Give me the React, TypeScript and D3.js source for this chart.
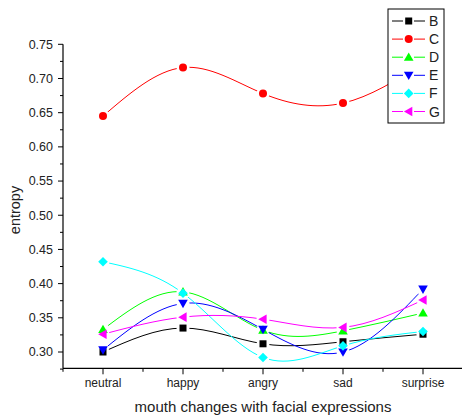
import React from "react";
import * as d3 from "d3";

const categories = ["neutral", "happy", "angry", "sad", "surprise"];
const seriesNames = ["B", "C", "D", "E", "F", "G"];
const valuesB = [0.300, 0.335, 0.312, 0.315, 0.326];
const valuesC = [0.645, 0.716, 0.678, 0.664, 0.722];
const valuesD = [0.333, 0.388, 0.332, 0.331, 0.357];
const valuesE = [0.303, 0.371, 0.333, 0.300, 0.392];
const valuesF = [0.432, 0.386, 0.292, 0.309, 0.330];
const valuesG = [0.326, 0.351, 0.348, 0.336, 0.376];
const yTicks = [0.30, 0.35, 0.40, 0.45, 0.50, 0.55, 0.60, 0.65, 0.70, 0.75];

const colors = ["#000000", "#ff0000", "#00ff00", "#0000ff", "#00ffff", "#ff00ff"];
const shapes = ["square", "circle", "triUp", "triDown", "diamond", "triLeft"];
const allValues = [valuesB, valuesC, valuesD, valuesE, valuesF, valuesG];

const W = 462, H = 416;
const left = 63, right = 463, top = 44.3, bottom = 368.3;

const x = d3.scaleLinear().domain([-0.5, 4.5]).range([left, right]);
const y = d3.scaleLinear().domain([0.30, 0.75]).range([352, 44.3]);

function Marker({ shape, cx, cy, color }: { shape: string; cx: number; cy: number; color: string }) {
  if (shape === "square") return <rect x={cx - 3.5} y={cy - 3.5} width={7} height={7} fill={color} />;
  if (shape === "circle") return <circle cx={cx} cy={cy} r={4} fill={color} />;
  const s = 4.8;
  let pts = "";
  if (shape === "triUp") pts = `${cx},${cy - s} ${cx + s},${cy + s * 0.75} ${cx - s},${cy + s * 0.75}`;
  if (shape === "triDown") pts = `${cx},${cy + s} ${cx + s},${cy - s * 0.75} ${cx - s},${cy - s * 0.75}`;
  if (shape === "triLeft") pts = `${cx - s},${cy} ${cx + s * 0.75},${cy - s} ${cx + s * 0.75},${cy + s}`;
  if (shape === "diamond") pts = `${cx},${cy - s} ${cx + s},${cy} ${cx},${cy + s} ${cx - s},${cy}`;
  return <polygon points={pts} fill={color} />;
}

export default function App() {
  const line = d3
    .line<number>()
    .x((_, i) => x(i))
    .y((d) => y(d))
    .curve(d3.curveNatural);

  const minorY = d3.range(0.275, 0.751, 0.025).filter((v) => Math.abs((v * 40) % 2) > 0.5);
  const xMinor = d3.range(-0.5, 4.6, 1);

  const legendX = 388, legendY = 9, legendW = 56, legendH = 114;

  return (
    <svg width={W} height={H} style={{ position: "absolute", left: 0, top: 0, background: "#fff" }}
      fontFamily="Liberation Sans, Arial, sans-serif">
      <defs>
        {allValues.map((vals, si) => (
          <mask id={`m${si}`} key={si} maskUnits="userSpaceOnUse" x={0} y={0} width={W} height={H}>
            <rect x={0} y={0} width={W} height={H} fill="#fff" />
            {vals.map((v, i) => (
              <circle key={i} cx={x(i)} cy={y(v)} r={6.5} fill="#000" />
            ))}
          </mask>
        ))}
      </defs>

      {/* axes */}
      <line x1={left} y1={top} x2={left} y2={bottom} stroke="#000" strokeWidth={1.2} />
      <line x1={left} y1={bottom} x2={right} y2={bottom} stroke="#000" strokeWidth={1.2} />
      {yTicks.map((t) => (
        <g key={t}>
          <line x1={left - 5} x2={left} y1={y(t)} y2={y(t)} stroke="#000" strokeWidth={1} />
          <text x={53} y={y(t)} dy="0.35em" textAnchor="end" fontSize={12.5} fill="#222">
            {t.toFixed(2)}
          </text>
        </g>
      ))}
      {minorY.map((t) => (
        <line key={t} x1={left - 3} x2={left} y1={y(t)} y2={y(t)} stroke="#000" strokeWidth={1} />
      ))}
      {categories.map((c, i) => (
        <g key={c}>
          <line x1={x(i)} x2={x(i)} y1={bottom} y2={bottom + 6} stroke="#000" strokeWidth={1} />
          <text x={x(i)} y={387} textAnchor="middle" fontSize={12} fill="#222">
            {c}
          </text>
        </g>
      ))}
      {xMinor.map((t) => (
        <line key={t} x1={x(t)} x2={x(t)} y1={bottom} y2={bottom + 3.5} stroke="#000" strokeWidth={1} />
      ))}
      <text x={263} y={412} textAnchor="middle" fontSize={15} fill="#222">
        mouth changes with facial expressions
      </text>
      <text transform="translate(19.5,210) rotate(-90)" textAnchor="middle" fontSize={14.5} fill="#222">
        entropy
      </text>

      {/* series */}
      {allValues.map((vals, si) => (
        <g key={si}>
          <path d={line(vals) || ""} fill="none" stroke={colors[si]} strokeWidth={1} mask={`url(#m${si})`} />
          {vals.map((v, i) => (
            <Marker key={i} shape={shapes[si]} cx={x(i)} cy={y(v)} color={colors[si]} />
          ))}
        </g>
      ))}

      {/* legend */}
      <rect x={legendX} y={legendY} width={legendW} height={legendH} fill="#fff" stroke="#000" strokeWidth={1} />
      {seriesNames.map((n, si) => {
        const ly = 21 + si * 18.1;
        return (
          <g key={n}>
            <line x1={392} x2={403} y1={ly} y2={ly} stroke={colors[si]} strokeWidth={1} />
            <line x1={414} x2={425} y1={ly} y2={ly} stroke={colors[si]} strokeWidth={1} />
            <Marker shape={shapes[si]} cx={408.7} cy={ly} color={colors[si]} />
            <text x={429} y={ly} dy="0.36em" fontSize={14} fill="#222">
              {n}
            </text>
          </g>
        );
      })}
    </svg>
  );
}
